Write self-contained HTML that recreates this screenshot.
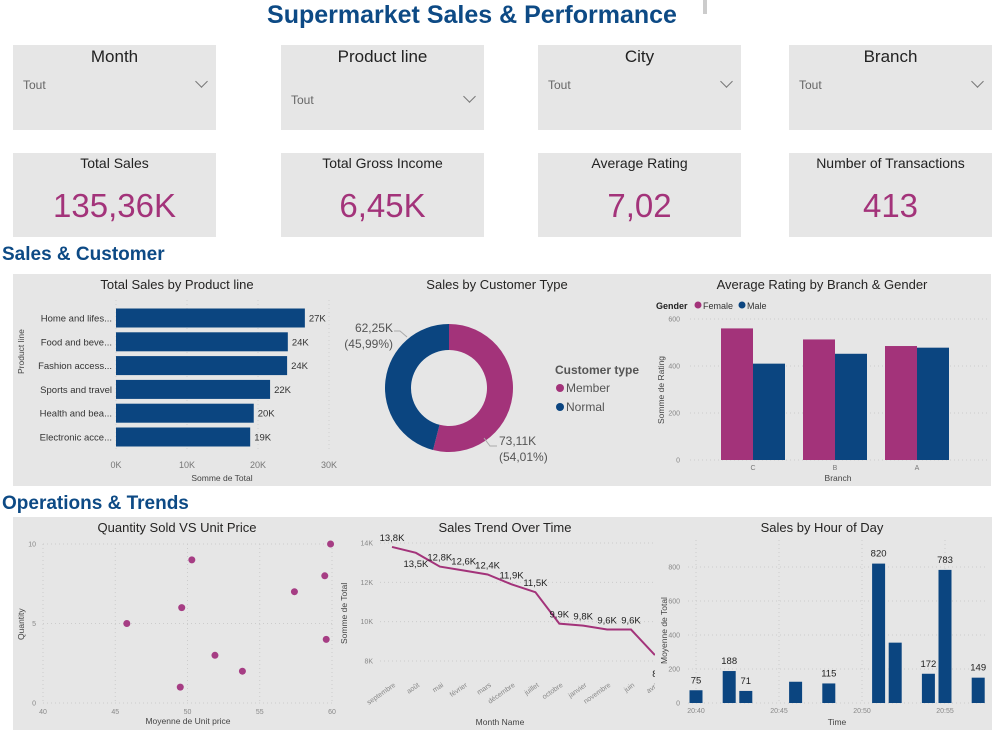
<!DOCTYPE html>
<html><head><meta charset="utf-8">
<style>
body{margin:0;width:1007px;height:730px;overflow:hidden;background:#fff;font-family:"Liberation Sans",sans-serif;position:relative}
.abs{position:absolute}
.panel{position:absolute;background:#e6e6e6}
.sl-title{position:absolute;left:0;right:0;top:2px;text-align:center;font-size:17px;color:#222}
.sl-val{position:absolute;left:10px;font-size:12px;color:#666}
.chev{position:absolute;right:10px;width:8px;height:8px;border-right:1px solid #777;border-bottom:1px solid #777;transform:rotate(45deg)}
.kpi-l{position:absolute;left:0;right:0;top:2px;text-align:center;font-size:14px;color:#222}
.kpi-v{position:absolute;left:0;right:0;top:34px;text-align:center;font-size:33px;color:#a3337a}
.h{position:absolute;font-weight:bold;color:#0d4a85}
svg text{font-family:"Liberation Sans",sans-serif}
</style></head><body>
<div class="h" style="left:0;width:944px;top:1px;text-align:center;font-size:25px">Supermarket Sales &amp; Performance</div>
<div class="abs" style="left:703px;top:0;width:4px;height:14px;background:#ccc"></div>

<div class="panel" style="left:13px;top:45px;width:203px;height:85px"><div class="sl-title">Month</div><div class="sl-val" style="top:33px">Tout</div><div class="chev" style="top:32px"></div></div>
<div class="panel" style="left:281px;top:45px;width:203px;height:85px"><div class="sl-title">Product line</div><div class="sl-val" style="top:48px">Tout</div><div class="chev" style="top:47px"></div></div>
<div class="panel" style="left:538px;top:45px;width:203px;height:85px"><div class="sl-title">City</div><div class="sl-val" style="top:33px">Tout</div><div class="chev" style="top:32px"></div></div>
<div class="panel" style="left:789px;top:45px;width:203px;height:85px"><div class="sl-title">Branch</div><div class="sl-val" style="top:33px">Tout</div><div class="chev" style="top:32px"></div></div>

<div class="panel" style="left:13px;top:153px;width:203px;height:84px"><div class="kpi-l">Total Sales</div><div class="kpi-v">135,36K</div></div>
<div class="panel" style="left:281px;top:153px;width:203px;height:84px"><div class="kpi-l">Total Gross Income</div><div class="kpi-v">6,45K</div></div>
<div class="panel" style="left:538px;top:153px;width:203px;height:84px"><div class="kpi-l">Average Rating</div><div class="kpi-v">7,02</div></div>
<div class="panel" style="left:789px;top:153px;width:203px;height:84px"><div class="kpi-l">Number of Transactions</div><div class="kpi-v">413</div></div>

<div class="h" style="left:2px;top:244px;font-size:19px">Sales &amp; Customer</div>
<div class="h" style="left:2px;top:493px;font-size:19px">Operations &amp; Trends</div>

<div class="panel" style="left:13px;top:274px;width:978px;height:212px"></div>
<div class="panel" style="left:13px;top:517px;width:979px;height:213px"></div>

<svg id="s" class="abs" style="left:0;top:0" width="1007" height="730"></svg>

<script>
// Chart 1
const prodCats=["Home and lifes...","Food and beve...","Fashion access...","Sports and travel","Health and bea...","Electronic acce..."];
const prodVals=[26.6,24.2,24.1,21.7,19.4,18.9];
const prodLbls=["27K","24K","24K","22K","20K","19K"];
const prodTicks=[0,10,20,30];
// Donut
const custTypes=["Member","Normal"];
const custVals=[73.11,62.25];
// Chart 3
const branches=["C","B","A"];
const femaleVals=[560,513,485];
const maleVals=[410,452,478];
const ratingTicks=[0,200,400,600];
// Scatter
const priceVals=[45.8,49.6,50.3,49.5,51.9,53.8,57.4,59.5,59.6,59.9];
const qtyVals=[5,6,9,1,3,2,7,8,4,10];
const priceTicks=[40,45,50,55,60];
const qtyTicks=[0,5,10];
// Line
const months=["septembre","août","mai","février","mars","décembre","juillet","octobre","janvier","novembre","juin","avril"];
const monthVals=[13.8,13.5,12.8,12.6,12.4,11.9,11.5,9.9,9.8,9.6,9.6,8.3];
const monthLbls=["13,8K","13,5K","12,8K","12,6K","12,4K","11,9K","11,5K","9,9K","9,8K","9,6K","9,6K","8"];
const totalTicks=[8,10,12,14];
// Hour
const minutes=[0,2,3,6,8,11,12,14,15,17];
const hourVals=[75,188,71,125,115,820,355,172,783,149];
const hourLbls=["75","188","71","","115","820","","172","783","149"];
const hourTicks=[0,200,400,600,800];
const timeTicks=["20:40","20:45","20:50","20:55"];

const S=document.getElementById('s');const NS="http://www.w3.org/2000/svg";
function el(t,a,txt,p){const e=document.createElementNS(NS,t);for(const k in a)e.setAttribute(k,a[k]);if(txt!=null)e.textContent=txt;(p||S).appendChild(e);return e;}
const BLUE="#0b4580",PINK="#a3337a";
function title(x,y,t,n){const e=el('text',{x:x,y:y,'text-anchor':'middle','font-size':13,fill:'#252423'},t);}

// ---- Chart 1
title(177,289,"Total Sales by Product line","product-chart-title");
const x1=v=>116+v*213/30, y1=i=>318+i*23.8;
prodTicks.forEach(t=>{el('line',{x1:x1(t),x2:x1(t),y1:300,y2:450,stroke:'#d0d0d0','stroke-dasharray':'1 3'});const e=el('text',{x:x1(t),y:468,'text-anchor':'middle','font-size':9,fill:'#777'},t+"K");});
prodCats.forEach((c,i)=>{
 const r=el('rect',{x:x1(0),y:y1(i)-9.5,width:x1(prodVals[i])-x1(0),height:19,fill:BLUE});
 
 el('text',{x:112,y:y1(i)+3.5,'text-anchor':'end','font-size':9.5,fill:'#333'},c);
 el('text',{x:x1(prodVals[i])+4,y:y1(i)+3.5,'font-size':9.5,fill:'#333'},prodLbls[i]);
});
el('text',{x:222,y:481,'text-anchor':'middle','font-size':8.5,fill:'#444'},"Somme de Total");
el('text',{x:0,y:0,transform:'translate(24,374) rotate(-90)','font-size':8.5,fill:'#444'},"Product line");

// ---- Donut
title(497,289,"Sales by Customer Type","donut-title");
const cx=449,cy=388,R=64,r=38;let tot=custVals.reduce((a,b)=>a+b,0),ang=0;
custVals.forEach((v,i)=>{const a0=ang,a1=ang+v/tot*2*Math.PI;ang=a1;
 const p=(a,rad)=>[cx+rad*Math.sin(a),cy-rad*Math.cos(a)];const lg=(a1-a0)>Math.PI?1:0;
 const [x0,y0]=p(a0,R),[xx1,yy1]=p(a1,R),[x2,y2]=p(a1,r),[x3,y3]=p(a0,r);
 const e=el('path',{d:`M${x0},${y0}A${R},${R} 0 ${lg} 1 ${xx1},${yy1}L${x2},${y2}A${r},${r} 0 ${lg} 0 ${x3},${y3}Z`,fill:i==0?PINK:BLUE});
 });
const pct=custVals.map(v=>(v/tot*100).toFixed(2).replace('.',','));
el('polyline',{points:"484,438 490,446 497,446",fill:'none',stroke:'#aaa'});
el('text',{x:499,y:445,'font-size':12,fill:'#555'},custVals[0].toFixed(2).replace('.',',')+"K");
el('text',{x:499,y:461,'font-size':12,fill:'#555'},"("+pct[0]+"%)");
el('polyline',{points:"407,337 400,331 394,331",fill:'none',stroke:'#aaa'});
el('text',{x:393,y:332,'text-anchor':'end','font-size':12,fill:'#555'},custVals[1].toFixed(2).replace('.',',')+"K");
el('text',{x:393,y:348,'text-anchor':'end','font-size':12,fill:'#555'},"("+pct[1]+"%)");
el('text',{x:555,y:374,'font-size':12,'font-weight':'bold',fill:'#555'},"Customer type");
custTypes.forEach((c,i)=>{el('circle',{cx:560,cy:388+i*19,r:4,fill:i==0?PINK:BLUE});el('text',{x:566,y:392+i*19,'font-size':12,fill:'#555'},c);});

// ---- Chart 3
title(822,289,"Average Rating by Branch & Gender","rating-title");
el('text',{x:656,y:309,'font-size':9,'font-weight':'bold',fill:'#222'},"Gender");
el('circle',{cx:698,cy:305,r:3.5,fill:PINK});el('text',{x:703,y:309,'font-size':9,fill:'#333'},"Female");
el('circle',{cx:742,cy:305,r:3.5,fill:BLUE});el('text',{x:747,y:309,'font-size':9,fill:'#333'},"Male");
const y3=v=>460-v*141/600, c3=i=>753+i*82;
ratingTicks.forEach(t=>{el('line',{x1:690,x2:988,y1:y3(t),y2:y3(t),stroke:'#ccc','stroke-dasharray':'1 3'});el('text',{x:680,y:y3(t)+2.5,'text-anchor':'end','font-size':7,fill:'#888'},t);});
branches.forEach((b,i)=>{
 const f=el('rect',{x:c3(i)-32,y:y3(femaleVals[i]),width:32,height:y3(0)-y3(femaleVals[i]),fill:PINK});
 
 const m=el('rect',{x:c3(i),y:y3(maleVals[i]),width:32,height:y3(0)-y3(maleVals[i]),fill:BLUE});
 
 el('text',{x:c3(i),y:470,'text-anchor':'middle','font-size':7,fill:'#777'},b);});
el('text',{x:838,y:481,'text-anchor':'middle','font-size':8.5,fill:'#444'},"Branch");
el('text',{x:0,y:0,transform:'translate(664,424) rotate(-90)','font-size':8.5,fill:'#444'},"Somme de Rating");

// ---- Scatter
title(177,532,"Quantity Sold VS Unit Price","scatter-title");
const xs=v=>43+(v-40)*289/20, ys=v=>703-v*15.9;
priceTicks.forEach(t=>{el('line',{x1:xs(t),x2:xs(t),y1:544,y2:703,stroke:'#ccc','stroke-dasharray':'1 3'});el('text',{x:xs(t),y:714,'text-anchor':'middle','font-size':7,fill:'#888'},t);});
qtyTicks.forEach(t=>{el('line',{x1:43,x2:333,y1:ys(t),y2:ys(t),stroke:'#ccc','stroke-dasharray':'1 3'});el('text',{x:36,y:ys(t)+2.5,'text-anchor':'end','font-size':7,fill:'#888'},t);});
priceVals.forEach((p,i)=>{const c=el('circle',{cx:xs(p),cy:ys(qtyVals[i]),r:3.5,fill:'#a63d84'});});
el('text',{x:188,y:724,'text-anchor':'middle','font-size':8.5,fill:'#444'},"Moyenne de Unit price");
el('text',{x:0,y:0,transform:'translate(24,640) rotate(-90)','font-size':8.5,fill:'#444'},"Quantity");

// ---- Line
const cl=el('clipPath',{id:'cl'});el('rect',{x:341,y:517,width:314,height:213},null,cl);
const g=el('g',{'clip-path':'url(#cl)'});
title(505,532,"Sales Trend Over Time","trend-title");
const xl=i=>392+i*23.9, yl=v=>661-(v-8)*118/6;
totalTicks.forEach(t=>{el('line',{x1:380,x2:655,y1:yl(t),y2:yl(t),stroke:'#ccc','stroke-dasharray':'1 3'},null,g);el('text',{x:373,y:yl(t)+2.5,'text-anchor':'end','font-size':7,fill:'#888'},t+"K",g);});
const pl=el('polyline',{points:monthVals.map((v,i)=>xl(i)+','+yl(v)).join(' '),fill:'none',stroke:'#a3337a','stroke-width':2},null,g);

monthVals.forEach((v,i)=>{const dy=(i==1)?14:(i==11?22:-6);el('text',{x:xl(i),y:yl(v)+dy,'text-anchor':'middle','font-size':9.5,fill:'#222'},monthLbls[i],g);
 el('text',{x:0,y:0,transform:`translate(${xl(i)+4},${686}) rotate(-35)`,'text-anchor':'end','font-size':7,fill:'#888'},months[i],g);});
el('text',{x:500,y:725,'text-anchor':'middle','font-size':8.5,fill:'#444'},"Month Name",g);
el('text',{x:0,y:0,transform:'translate(347,644) rotate(-90)','font-size':8.5,fill:'#444'},"Somme de Total",g);

// ---- Hour
title(822,532,"Sales by Hour of Day","hour-title");
const xh=m=>696+m*16.6, yh=v=>703-v*0.17;
hourTicks.forEach(t=>{el('line',{x1:688,x2:988,y1:yh(t),y2:yh(t),stroke:'#ccc','stroke-dasharray':'1 3'});el('text',{x:680,y:yh(t)+2.5,'text-anchor':'end','font-size':7,fill:'#888'},t);});
timeTicks.forEach((t,i)=>{el('line',{x1:xh(i*5),x2:xh(i*5),y1:540,y2:703,stroke:'#ccc','stroke-dasharray':'1 3'});el('text',{x:xh(i*5),y:713,'text-anchor':'middle','font-size':7,fill:'#888'},t);});
minutes.forEach((m,i)=>{const b=el('rect',{x:xh(m)-6.5,y:yh(hourVals[i]),width:13,height:yh(0)-yh(hourVals[i]),fill:BLUE});
 if(hourLbls[i])el('text',{x:xh(m),y:yh(hourVals[i])-7,'text-anchor':'middle','font-size':9.5,fill:'#222'},hourLbls[i]);});
el('text',{x:837,y:725,'text-anchor':'middle','font-size':8.5,fill:'#444'},"Time");
el('text',{x:0,y:0,transform:'translate(667,664) rotate(-90)','font-size':8.5,fill:'#444'},"Moyenne de Total");
</script>
</body></html>
